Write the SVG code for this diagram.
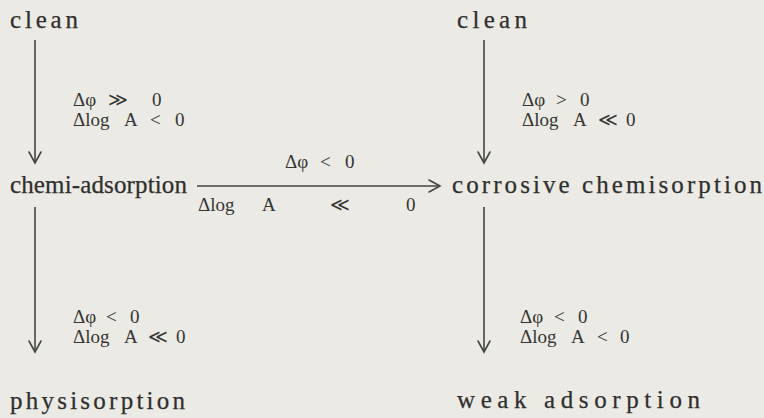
<svg xmlns="http://www.w3.org/2000/svg" width="764" height="418" viewBox="0 0 764 418">
<defs>
<style>
.lbl{font-family:"Liberation Serif","DejaVu Serif",serif;font-size:25px;fill:#2f2f2d;stroke:#2f2f2d;stroke-width:0.25}
.math{font-family:"Liberation Serif","DejaVu Serif",serif;font-size:19px;fill:#353533}
.ln{stroke:#454543;stroke-width:1.6;fill:none}
.hd{stroke:#454543;stroke-width:1.6;fill:none;stroke-linecap:round;stroke-linejoin:miter}
</style>
<marker id="ah" markerUnits="userSpaceOnUse" markerWidth="24" markerHeight="24" refX="10" refY="10" orient="auto" overflow="visible">
<polyline class="hd" points="-1,4 10,10 -1,16"/>
</marker>
</defs>
<rect width="764" height="418" fill="#ebeae4"/>
<g id="connectors">
<line class="ln" x1="35" y1="40" x2="35" y2="163" marker-end="url(#ah)"/>
<line class="ln" x1="484" y1="40" x2="484" y2="163" marker-end="url(#ah)"/>
<line class="ln" x1="197" y1="186" x2="440" y2="186" marker-end="url(#ah)"/>
<line class="ln" x1="35" y1="207" x2="35" y2="352" marker-end="url(#ah)"/>
<line class="ln" x1="484" y1="207" x2="484" y2="352" marker-end="url(#ah)"/>
<g id="label-e1">
<text class="math" y="106"><tspan x="73">Δφ</tspan><tspan x="108">≫</tspan><tspan x="152">0</tspan></text>
<text class="math" y="126"><tspan x="73">Δlog</tspan><tspan x="124">A</tspan><tspan x="150">&lt;</tspan><tspan x="175">0</tspan></text>
</g>
<g id="label-e2">
<text class="math" y="106"><tspan x="522">Δφ</tspan><tspan x="556">&gt;</tspan><tspan x="580">0</tspan></text>
<text class="math" y="126"><tspan x="522">Δlog</tspan><tspan x="573">A</tspan><tspan x="598">≪</tspan><tspan x="626">0</tspan></text>
</g>
<g id="label-e3">
<text class="math" y="168"><tspan x="285">Δφ</tspan><tspan x="320">&lt;</tspan><tspan x="345">0</tspan></text>
<text class="math" y="211"><tspan x="198">Δlog</tspan><tspan x="262">A</tspan><tspan x="330">≪</tspan><tspan x="406">0</tspan></text>
</g>
<g id="label-e4">
<text class="math" y="323"><tspan x="73">Δφ</tspan><tspan x="106">&lt;</tspan><tspan x="130">0</tspan></text>
<text class="math" y="343"><tspan x="73">Δlog</tspan><tspan x="124">A</tspan><tspan x="148">≪</tspan><tspan x="176">0</tspan></text>
</g>
<g id="label-e5">
<text class="math" y="323"><tspan x="520">Δφ</tspan><tspan x="554">&lt;</tspan><tspan x="578">0</tspan></text>
<text class="math" y="343"><tspan x="520">Δlog</tspan><tspan x="571">A</tspan><tspan x="597">&lt;</tspan><tspan x="620">0</tspan></text>
</g>
</g>
<g id="clean-left"><text class="lbl" x="10" y="28" textLength="68" lengthAdjust="spacing">clean</text></g>
<g id="clean-right"><text class="lbl" x="457" y="28" textLength="70" lengthAdjust="spacing">clean</text></g>
<g id="chemi-adsorption"><text class="lbl" x="10" y="193" textLength="177" lengthAdjust="spacing">chemi-adsorption</text></g>
<g id="corrosive-chemisorption"><text class="lbl" x="452" y="193" textLength="310" lengthAdjust="spacing">corrosive chemisorption</text></g>
<g id="physisorption"><text class="lbl" x="10" y="409" textLength="175" lengthAdjust="spacing">physisorption</text></g>
<g id="weak-adsorption"><text class="lbl" x="457" y="408" textLength="243" lengthAdjust="spacing">weak adsorption</text></g>
</svg>
